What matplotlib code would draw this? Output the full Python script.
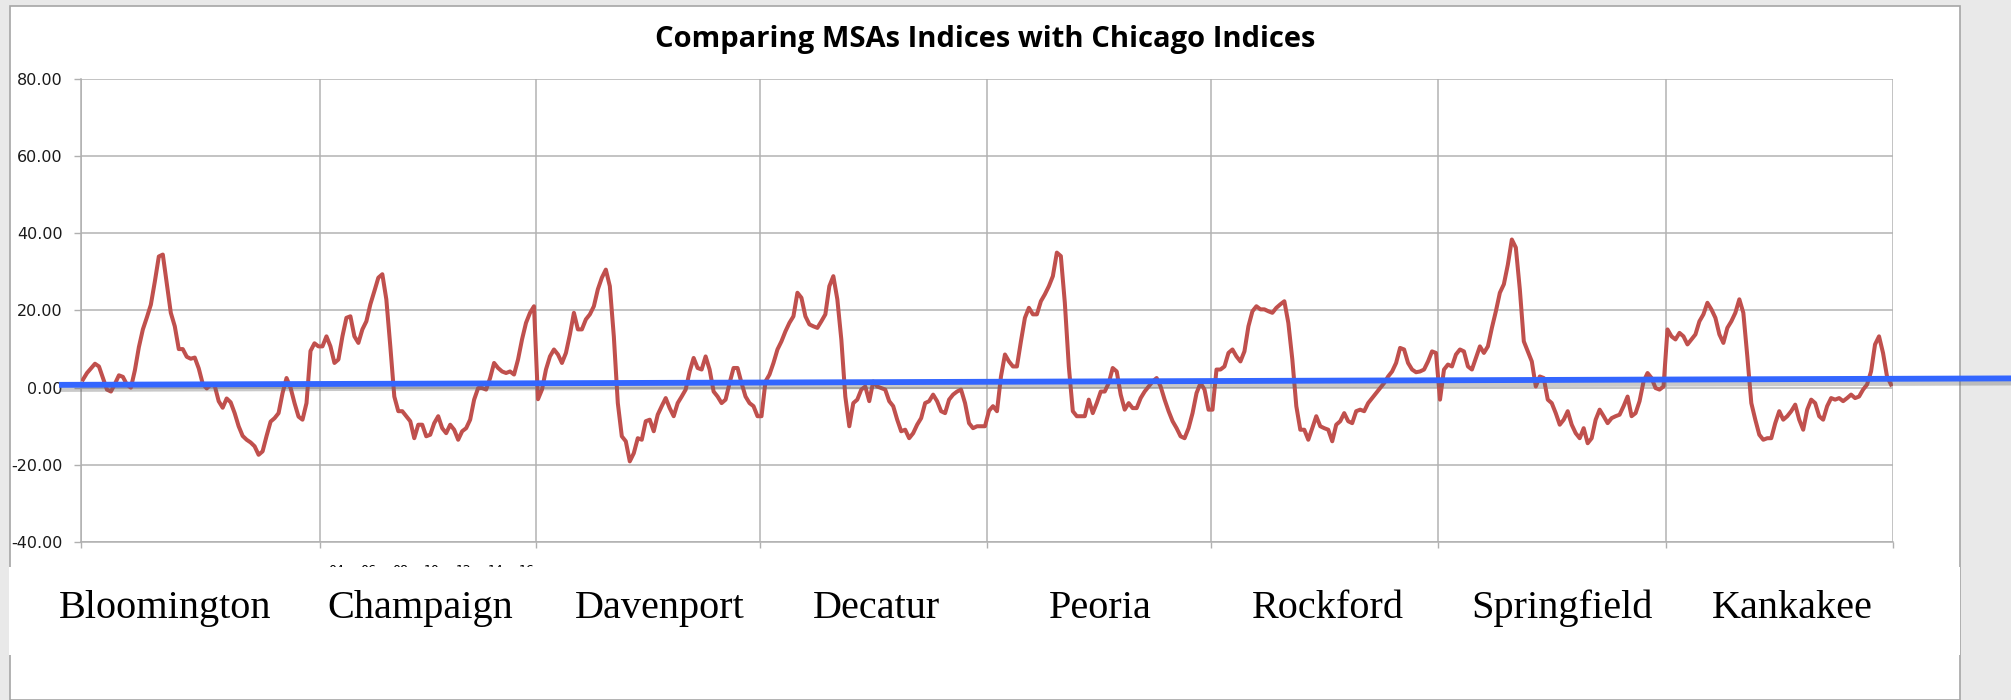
import numpy as np
import matplotlib.pyplot as plt
import matplotlib.patheffects as pe
from matplotlib.patches import Rectangle

# MSAs in the order they are stacked along the x axis
msas = ["Bloomington", "Champaign", "Davenport", "Decatur",
        "Peoria", "Rockford", "Springfield", "Kankakee"]

# index difference vs Chicago (one value every few months)
bloomington = [2.1, 3.8, 5.0, 6.2, 5.5, 2.5, -0.5, -1.0, 1.0, 3.2, 2.8, 0.8, 0.0, 4.5, 10.5,
               15.1, 18.2, 21.5, 27.5, 34.0, 34.5, 27.0, 19.4, 15.9, 10.0, 10.0, 8.0, 7.5,
               7.8, 5.0, 1.0, -0.2, 0.8, 0.5, -3.5, -5.2, -2.8, -3.8, -6.6, -10.0, -12.5,
               -13.5, -14.2, -15.2, -17.4, -16.5, -12.5, -8.8, -7.9, -6.6, -1.4, 2.5, 0.0,
               -4.0, -7.5, -8.3, -4.0, 9.5, 11.5, 10.7]
champaign = [10.7, 13.3, 10.7, 6.4, 7.3, 13.3, 18.1, 18.5, 13.3, 11.6, 15.1, 17.2, 21.6,
             25.0, 28.5, 29.4, 22.9, 10.7, -2.3, -6.1, -6.1, -7.4, -8.7, -13.1, -9.6, -9.6,
             -12.6, -12.2, -9.2, -7.4, -10.5, -11.8, -9.6, -10.9, -13.5, -11.3, -10.5, -8.3,
             -3.1, -0.1, -0.1, -0.5, 2.5, 6.4, 5.1, 4.2, 3.8, 4.2, 3.4, 7.3, 12.5, 16.8,
             19.4, 21.1]
davenport = [-3.0, -0.5, 4.7, 8.1, 9.9, 8.6, 6.4, 9.0, 13.8, 19.4, 15.1, 15.1, 17.7, 19.0,
             21.1, 25.5, 28.5, 30.6, 26.3, 13.3, -4.0, -12.6, -13.9, -19.1, -17.0, -13.1,
             -13.5, -8.7, -8.3, -11.3, -7.0, -4.8, -2.7, -5.3, -7.4, -4.0, -2.3, -0.5, 4.2,
             7.7, 5.1, 4.7, 8.1, 4.7, -1.0, -2.3, -4.0, -3.1, 1.2, 5.1, 5.1, 1.2, -2.3,
             -4.0, -4.8, -7.4]
decatur = [-7.4, 1.6, 3.4, 6.4, 9.9, 12.0, 14.6, 16.8, 18.5, 24.6, 23.3, 18.5, 16.4, 15.9,
           15.5, 17.2, 19.0, 26.3, 28.9, 22.9, 12.5, -2.3, -10.0, -4.0, -3.1, -0.5, 0.3,
           -3.5, 1.6, 0.3, -0.1, -0.5, -3.5, -4.8, -8.3, -11.3, -10.9, -13.1, -11.8, -9.6,
           -7.9, -4.0, -3.5, -1.8, -3.5, -6.1, -6.6, -3.1, -1.8, -1.0, -0.5, -4.0, -9.2,
           -10.5, -10.0, -10.0, -10.0]
peoria = [-6.0, -4.8, -6.1, 2.9, 8.6, 6.8, 5.5, 5.5, 12.0, 18.1, 20.7, 19.0, 19.0, 22.4,
          24.2, 26.3, 28.9, 35.0, 34.1, 22.0, 5.5, -6.1, -7.4, -7.4, -7.4, -3.1, -6.6, -4.0,
          -1.0, -1.0, 1.2, 5.1, 4.2, -1.8, -5.7, -4.0, -5.3, -5.3, -2.7, -1.0, 0.3, 1.6,
          2.5, 0.3, -3.1, -6.1, -8.7, -10.5, -12.6, -13.1, -10.5, -6.6, -1.4, 1.2, -0.5,
          -5.7]
rockford = [-5.7, 4.7, 4.7, 5.5, 9.0, 9.9, 8.1, 6.8, 9.4, 15.9, 19.8, 21.1, 20.3, 20.3,
            19.8, 19.4, 20.7, 21.6, 22.4, 16.8, 7.3, -4.8, -10.9, -10.9, -13.5, -10.5, -7.4,
            -10.0, -10.5, -10.9, -13.9, -9.6, -8.7, -6.6, -8.7, -9.2, -6.1, -5.7, -6.1,
            -4.0, -2.7, -1.4, -0.1, 1.2, 2.9, 4.2, 6.4, 10.3, 9.9, 6.4, 4.7, 4.0, 4.2, 4.7,
            6.8, 9.4, 9.0]
springfield = [-3.1, 4.7, 6.0, 5.5, 8.6, 9.9, 9.4, 5.5, 4.7, 7.7, 10.7, 9.0, 10.7, 15.5,
               19.8, 24.6, 26.8, 31.9, 38.4, 36.3, 25.5, 12.0, 9.4, 6.8, 0.3, 2.9, 2.5,
               -3.1, -4.0, -6.6, -9.6, -8.3, -6.1, -9.6, -11.8, -13.1, -10.5, -14.4, -13.1,
               -8.3, -5.7, -7.4, -9.2, -7.9, -7.4, -7.0, -4.8, -2.3, -7.4, -6.6, -3.5, 1.6,
               3.8, 2.5, -0.1, -0.5, 0.3]
kankakee = [15.1, 13.3, 12.5, 14.2, 13.3, 11.2, 12.5, 13.8, 17.2, 19.0, 22.0, 20.3, 18.1,
            13.8, 11.6, 15.5, 17.2, 19.4, 22.9, 19.4, 8.1, -4.0, -8.3, -12.2, -13.5, -13.1,
            -13.1, -9.2, -6.1, -8.3, -7.4, -6.1, -4.4, -8.3, -10.9, -5.7, -3.1, -4.0, -7.4,
            -8.3, -4.8, -2.7, -3.1, -2.7, -3.5, -2.7, -1.8, -2.7, -2.3, -0.5, 0.8, 4.2,
            11.2, 13.3, 9.0, 2.9, 0.8]

# Chicago trend line: value at the first and at the last month
chicago_trend = [0.75, 2.3]

y_ticks = [-40, -20, 0, 20, 40, 60, 80]
year_labels = ["04", "06", "08", "10", "12", "14", "16"]

W, H = 2011, 700


def fx(px):
    return px / W


def fy(py):
    return 1 - py / H


segments = [bloomington, champaign, davenport, decatur, peoria, rockford, springfield, kankakee]
values = np.concatenate(segments)
x = np.arange(len(values))
bounds = np.concatenate([[0], np.cumsum([len(s) for s in segments])]) - 0.5

fig = plt.figure(figsize=(W / 100, H / 100), dpi=100)
fig.patch.set_facecolor('#e9e9e9')

# white slide frame behind the chart
fig.add_artist(Rectangle((fx(10), 0), fx(1950), fy(6), transform=fig.transFigure,
                         facecolor='white', edgecolor='#a6a6a6', lw=1.2, zorder=-5))

ax = fig.add_axes([fx(81), fy(542), fx(1893 - 81), (542 - 79) / H])
ax.set_xlim(bounds[0], bounds[-1])
ax.set_ylim(-40, 80)

ax.set_yticks(y_ticks)
ax.set_yticklabels(["%.2f" % v for v in y_ticks], fontsize=11.5, color='#1a1a1a')
ax.set_xticks(bounds)
ax.set_xticklabels([])
ax.tick_params(axis='y', length=5, width=1, color='#b0b0b0', pad=8)
ax.tick_params(axis='x', length=4, width=1, color='#b0b0b0')
ax.grid(True, color='#b3b3b3', lw=1.1)
ax.set_axisbelow(True)
for side in ['top', 'right']:
    ax.spines[side].set_visible(False)
for side in ['left', 'bottom']:
    ax.spines[side].set_color('#b0b0b0')
    ax.spines[side].set_linewidth(1.1)

ax.plot(x, values, color='#c0504d', lw=2.9, zorder=3, solid_joinstyle='round')

# Chicago line, runs past the plot area to the right edge
slope = (chicago_trend[1] - chicago_trend[0]) / (len(values) - 1)
cx = np.array([-6, len(values) + 32])
ax.plot(cx, chicago_trend[0] + slope * cx, color='#3366ff', lw=4.2, zorder=4, clip_on=False,
        solid_capstyle='butt',
        path_effects=[pe.SimpleLineShadow(offset=(0, -3), shadow_color='#666666', alpha=0.35),
                      pe.Normal()])

fig.text(fx(985), fy(40), "Comparing MSAs Indices with Chicago Indices",
         ha='center', va='center', fontsize=21, fontweight='bold', family='Open Sans')

# year labels of the original axis, mostly hidden behind the label box
for xp, lab in zip(np.linspace(336, 527, len(year_labels)), year_labels):
    fig.text(fx(xp), fy(570), lab, ha='center', va='center', fontsize=9, zorder=3)

fig.add_artist(Rectangle((fx(9), fy(655)), fx(1951), (655 - 567) / H, transform=fig.transFigure,
                         facecolor='white', edgecolor='none', zorder=4))

label_px = [165, 420, 660, 877, 1100, 1328, 1562, 1792]
for xp, name in zip(label_px, msas):
    fig.text(fx(xp), fy(618), name, ha='center', va='baseline', fontsize=29,
             family='Liberation Serif', zorder=5)

fig.savefig('out.png', dpi=100, facecolor=fig.get_facecolor())
